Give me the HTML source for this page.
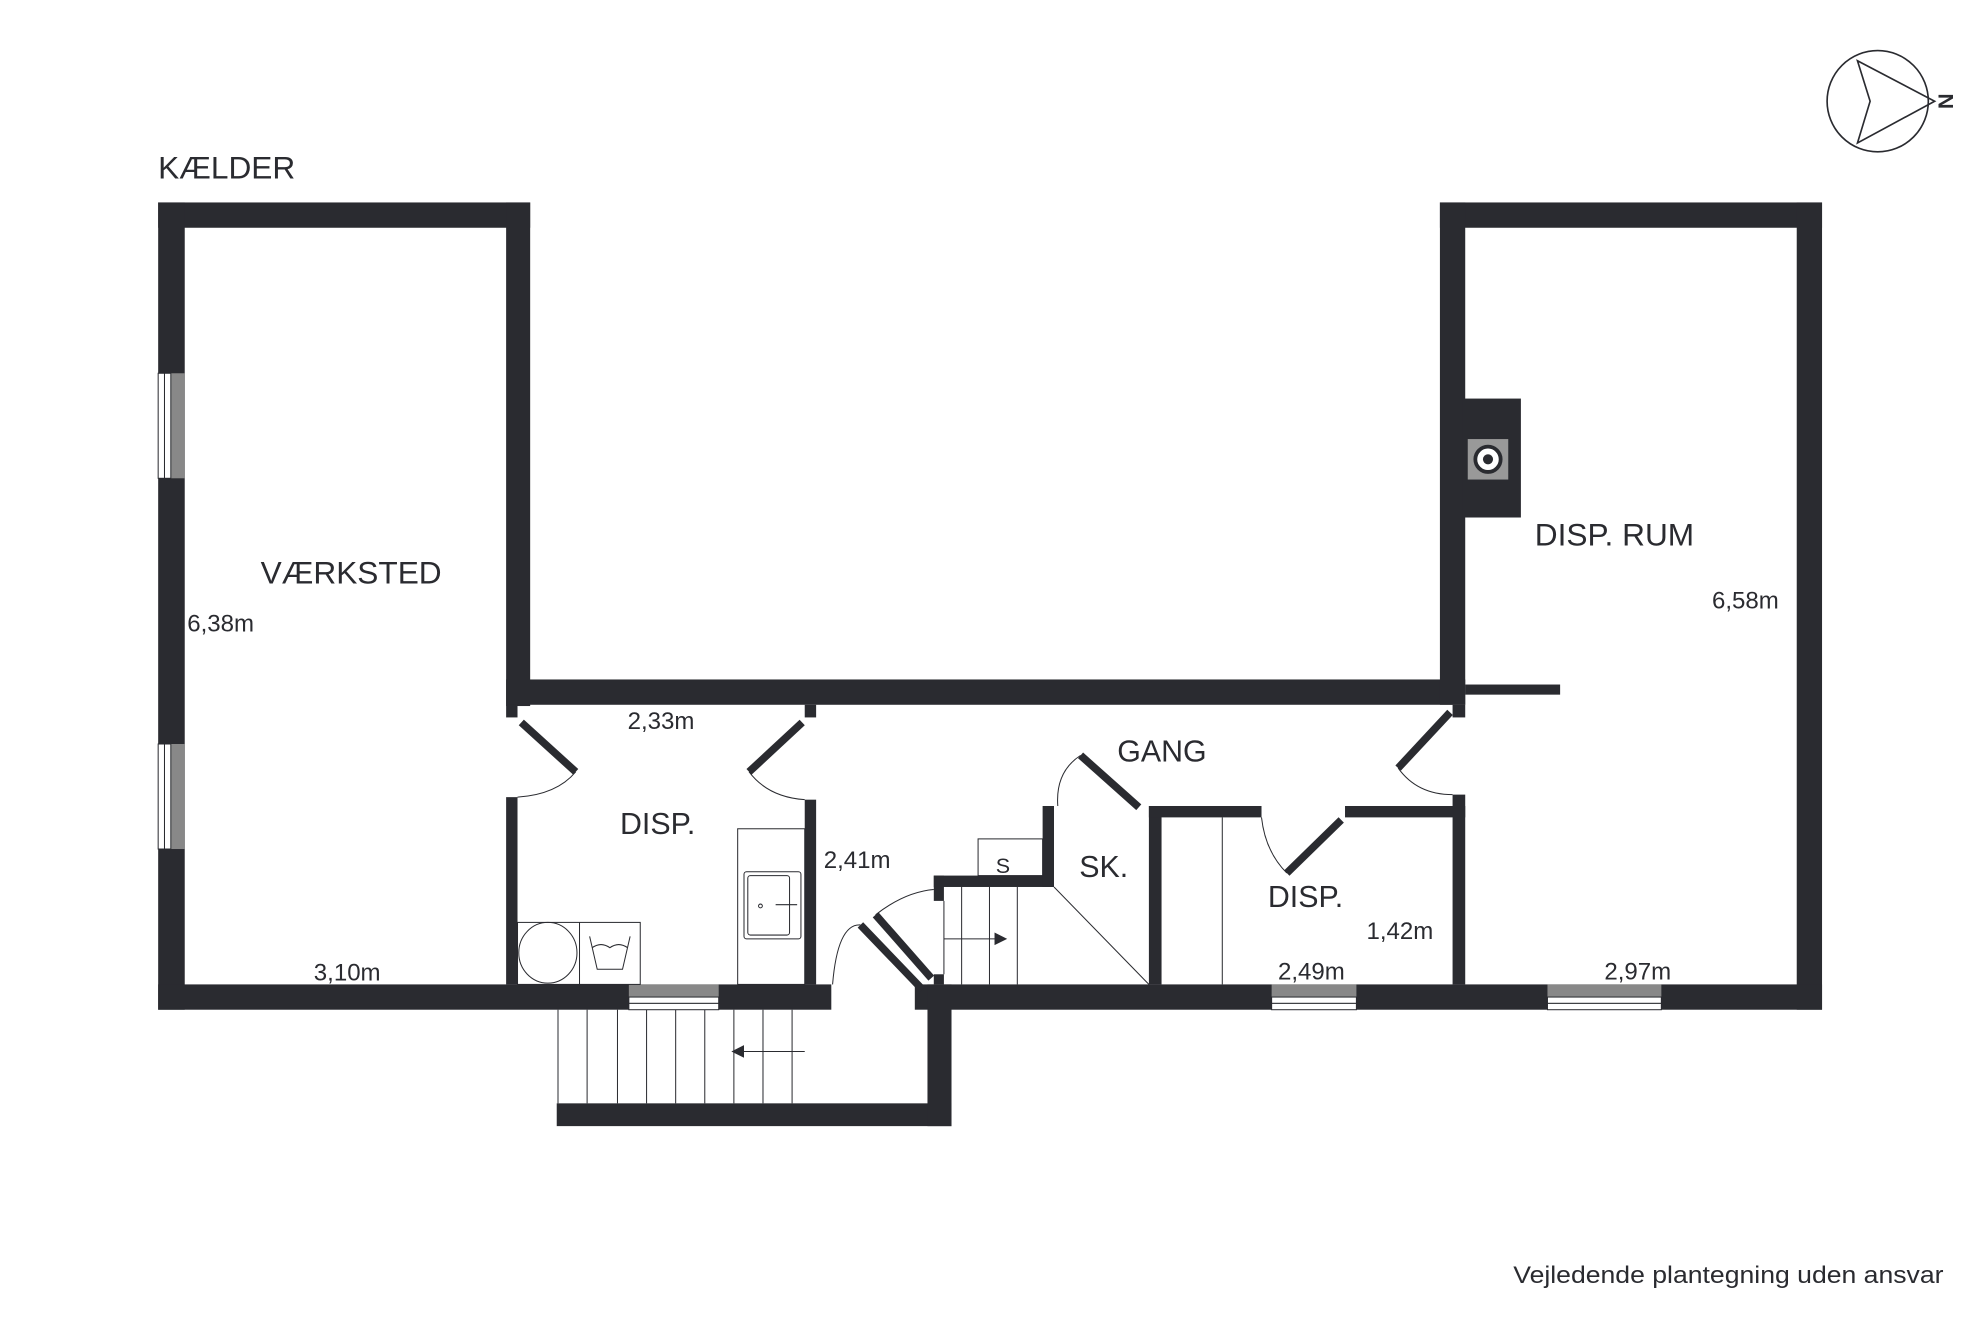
<!DOCTYPE html>
<html><head><meta charset="utf-8"><style>
html,body{margin:0;padding:0;background:#fff}
svg{display:block}
text{font-family:"Liberation Sans","DejaVu Sans",sans-serif;fill:#2a2b30}
</style></head><body>
<svg width="1984" height="1323" viewBox="0 0 1568 1045.6" xmlns="http://www.w3.org/2000/svg">
<rect width="1568" height="1046" fill="#fff"/>
<g fill="#2a2b30">
<rect x="125" y="160" width="294" height="20"/>
<rect x="125" y="160" width="21" height="638"/>
<rect x="400" y="160" width="19" height="398"/>
<rect x="400" y="537" width="758" height="20"/>
<rect x="1138" y="160" width="302" height="20"/>
<rect x="1138" y="160" width="20" height="397"/>
<rect x="1420" y="160" width="20" height="638"/>
<rect x="1158" y="541" width="75" height="8"/>
<rect x="1148" y="557" width="10" height="10"/>
<rect x="1156" y="315" width="46" height="94"/>
<rect x="125" y="778" width="532" height="20"/>
<rect x="723" y="778" width="717" height="20"/>
<rect x="440" y="872" width="312" height="18"/>
<rect x="733" y="778" width="19" height="112"/>
<rect x="400" y="557" width="9" height="10"/>
<rect x="400" y="630" width="9" height="148"/>
<rect x="636" y="557" width="9" height="10"/>
<rect x="636" y="632" width="9" height="146"/>
<rect x="738" y="692" width="95" height="9"/>
<rect x="738" y="692" width="8" height="20"/>
<rect x="738" y="770" width="8" height="8"/>
<rect x="824" y="637" width="9" height="64"/>
<rect x="908" y="637" width="10" height="141"/>
<rect x="908" y="637" width="89" height="9"/>
<rect x="1063" y="637" width="95" height="9"/>
<rect x="1148" y="628" width="10" height="150"/>
</g>
<g fill="#888">
<rect x="125" y="295" width="21" height="83"/>
<rect x="125" y="588" width="21" height="83"/>
<rect x="497" y="778" width="71" height="10"/>
<rect x="1005" y="778" width="67" height="10"/>
<rect x="1223" y="778" width="90" height="10"/>
</g>
<g fill="#fff" stroke="#2a2b30" stroke-width="0.8">
<rect x="125" y="295" width="5" height="83"/><rect x="130" y="295" width="5" height="83"/>
<rect x="125" y="588" width="5" height="83"/><rect x="130" y="588" width="5" height="83"/>
<rect x="497" y="788" width="71" height="5"/><rect x="497" y="793" width="71" height="5"/>
<rect x="1005" y="788" width="67" height="5"/><rect x="1005" y="793" width="67" height="5"/>
<rect x="1223" y="788" width="90" height="5"/><rect x="1223" y="793" width="90" height="5"/>
</g>
<rect x="1160" y="347" width="32" height="32" fill="#999"/>
<circle cx="1176" cy="363" r="10" fill="#fff" stroke="#2a2b30" stroke-width="3"/>
<circle cx="1176" cy="363" r="4" fill="#2a2b30"/>
<g stroke="#2a2b30" stroke-width="6" fill="none">
<line x1="412" y1="571" x2="455" y2="610"/>
<line x1="634" y1="571" x2="592" y2="610"/>
<line x1="854" y1="597" x2="900" y2="638"/>
<line x1="1146" y1="563" x2="1105" y2="607"/>
<line x1="1060" y1="648" x2="1017" y2="690"/>
<line x1="680" y1="731" x2="729" y2="782"/>
<line x1="692" y1="723" x2="736" y2="773"/>
</g>
<g stroke="#2a2b30" stroke-width="0.8" fill="none">
<path d="M455 610 Q440 628 409 630"/>
<path d="M592 610 Q607 630 636 632"/>
<path d="M854 597 Q834 610 836 637"/>
<path d="M1105 607 Q1120 628 1148 628"/>
<path d="M997 646 Q1000 673 1017 690"/>
<path d="M658 778 Q662 730 680 731"/>
<path d="M692 723 Q715 705 738 703"/>
<rect x="773" y="663" width="51" height="29"/>
<line x1="760" y1="701" x2="760" y2="778"/><line x1="782" y1="701" x2="782" y2="778"/>
<line x1="804" y1="701" x2="804" y2="778"/><line x1="833" y1="701" x2="908" y2="778"/>
<line x1="746" y1="712" x2="746" y2="770"/>
<line x1="746" y1="742" x2="790" y2="742"/>
<line x1="966" y1="646" x2="966" y2="778"/>
<line x1="441" y1="798" x2="441" y2="872"/>
<line x1="464" y1="798" x2="464" y2="872"/><line x1="488" y1="798" x2="488" y2="872"/>
<line x1="511" y1="798" x2="511" y2="872"/><line x1="534" y1="798" x2="534" y2="872"/>
<line x1="557" y1="798" x2="557" y2="872"/><line x1="580" y1="798" x2="580" y2="872"/>
<line x1="603" y1="798" x2="603" y2="872"/><line x1="626" y1="798" x2="626" y2="872"/>
<line x1="584" y1="831" x2="636" y2="831"/>
<rect x="583" y="655" width="53" height="123"/>
<rect x="588" y="689" width="45" height="53" rx="2"/>
<rect x="591" y="692" width="33" height="47" rx="2"/>
<line x1="613" y1="715" x2="630" y2="715"/>
<circle cx="601" cy="716" r="1.5"/>
<rect x="409" y="729" width="97" height="49"/>
<line x1="458" y1="729" x2="458" y2="778"/>
<ellipse cx="433" cy="753" rx="23" ry="24"/>
<path d="M466 740 L472 766 L492 766 L498 740 M468 749 Q475 744 482 749 Q489 744 496 749"/>
<circle cx="1484" cy="80" r="40" stroke-width="1.3"/>
<path d="M1468 48 L1529 80 L1468 113 L1478 80 Z" stroke-width="1.3"/>
</g>
<polygon points="796,742 786,737 786,747" fill="#2a2b30"/>
<polygon points="578,831 588,826 588,836" fill="#2a2b30"/>
<text x="125" y="141" font-size="25">KÆLDER</text>
<text x="206" y="461" font-size="25">VÆRKSTED</text>
<text x="148" y="499" font-size="19">6,38m</text>
<text x="248" y="775" font-size="19">3,10m</text>
<text x="496" y="576" font-size="19">2,33m</text>
<text x="490" y="659" font-size="24">DISP.</text>
<text x="651" y="686" font-size="19">2,41m</text>
<text x="787" y="690" font-size="17">S</text>
<text x="853" y="693" font-size="24">SK.</text>
<text x="883" y="602" font-size="24">GANG</text>
<text x="1002" y="717" font-size="24">DISP.</text>
<text x="1080" y="742" font-size="19">1,42m</text>
<text x="1010" y="774" font-size="19">2,49m</text>
<text x="1268" y="774" font-size="19">2,97m</text>
<text x="1213" y="431" font-size="25">DISP. RUM</text>
<text x="1353" y="481" font-size="19">6,58m</text>
<text x="1196" y="1014" font-size="19" textLength="340" lengthAdjust="spacingAndGlyphs">Vejledende plantegning uden ansvar</text>
<text x="0" y="0" font-size="17" font-weight="bold" transform="translate(1532,80) rotate(90)" text-anchor="middle">N</text>
</svg>
</body></html>
